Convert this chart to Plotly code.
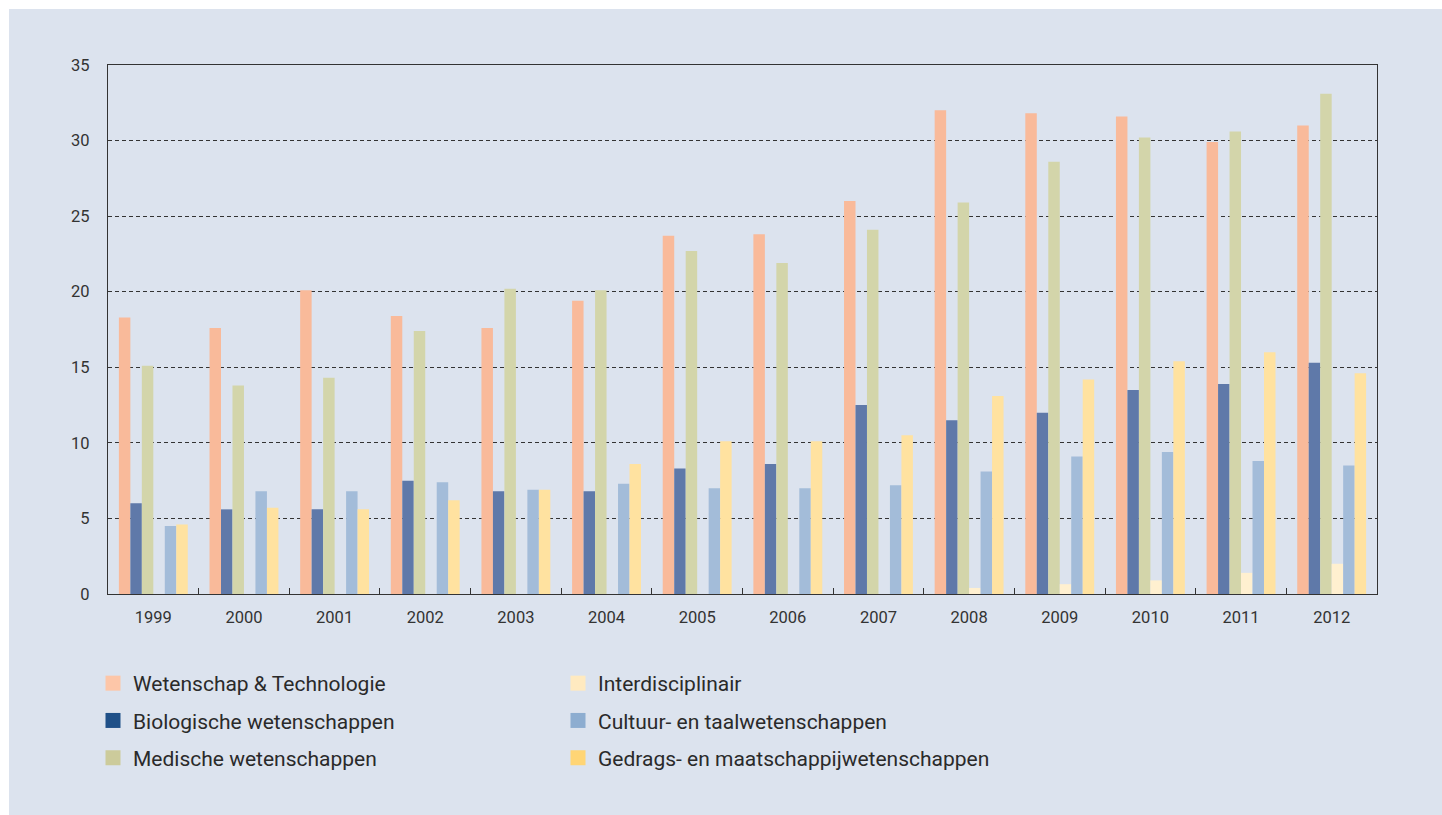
import plotly.graph_objects as go

years = ["1999", "2000", "2001", "2002", "2003", "2004", "2005", "2006",
         "2007", "2008", "2009", "2010", "2011", "2012"]

wetenschap_technologie = [18.3, 17.6, 20.1, 18.4, 17.6, 19.4, 23.7, 23.8, 26.0, 32.0, 31.8, 31.6, 29.9, 31.0]
biologische = [6.0, 5.6, 5.6, 7.5, 6.8, 6.8, 8.3, 8.6, 12.5, 11.5, 12.0, 13.5, 13.9, 15.3]
medische = [15.1, 13.8, 14.3, 17.4, 20.2, 20.1, 22.7, 21.9, 24.1, 25.9, 28.6, 30.2, 30.6, 33.1]
interdisciplinair = [0, 0, 0, 0, 0, 0, 0, 0, 0, 0.4, 0.65, 0.9, 1.4, 2.0]
cultuur_taal = [4.5, 6.8, 6.8, 7.4, 6.9, 7.3, 7.0, 7.0, 7.2, 8.1, 9.1, 9.4, 8.8, 8.5]
gedrag_maatschappij = [4.6, 5.7, 5.6, 6.2, 6.9, 8.6, 10.1, 10.1, 10.5, 13.1, 14.2, 15.4, 16.0, 14.6]

y_ticks = [0, 5, 10, 15, 20, 25, 30, 35]

# name, values, bar colour, legend swatch colour, legend, rank
series = [
    ("Wetenschap & Technologie", wetenschap_technologie, "#F9BA9A", "#FDC6A8", "legend", 1),
    ("Biologische wetenschappen", biologische, "#5F79A9", "#1F5088", "legend", 2),
    ("Medische wetenschappen", medische, "#D3D5AA", "#CCCB9B", "legend", 3),
    ("Interdisciplinair", interdisciplinair, "#FFF0D0", "#FFEAC0", "legend2", 1),
    ("Cultuur- en taalwetenschappen", cultuur_taal, "#A3BCD9", "#8DADD0", "legend2", 2),
    ("Gedrags- en maatschappijwetenschappen", gedrag_maatschappij, "#FFE2A0", "#FFD575", "legend2", 3),
]

fig = go.Figure()
for name, vals, color, sw, leg, rank in series:
    fig.add_trace(go.Bar(
        x=years, y=vals, name=name,
        marker=dict(color=color, line=dict(width=0)),
        showlegend=False,
    ))
for name, vals, color, sw, leg, rank in series:
    fig.add_trace(go.Scatter(
        x=[None], y=[None], name=name, mode="markers",
        marker=dict(symbol="square", size=15, color=sw, line=dict(width=0)),
        legend=leg, legendrank=rank, legendgroup=name, showlegend=True,
        hoverinfo="skip",
    ))

FW, FH = 1442, 815
L, T = 108, 65
PW, PH = 1269, 529
R, B = FW - L - PW, FH - T - PH


def px_x(p):  # page px -> paper
    return (p - L) / PW


def px_y(p):
    return (T + PH - p) / PH


fig.add_shape(type="rect", xref="paper", yref="paper",
              x0=px_x(9), x1=px_x(1470), y0=px_y(840), y1=px_y(9),
              fillcolor="#DCE3EE", line=dict(width=0), layer="below")

legend_common = dict(
    orientation="v", traceorder="grouped", tracegroupgap=7,
    font=dict(family="Roboto", size=21, color="#2a2a2a"),
    bgcolor="rgba(0,0,0,0)", itemclick=False, itemdoubleclick=False,
    yanchor="top", xanchor="left",
)

fig.update_layout(
    width=FW, height=FH,
    margin=dict(l=L, r=R, t=T, b=B),
    paper_bgcolor="white",
    plot_bgcolor="rgba(0,0,0,0)",
    barmode="group", bargap=0.24, bargroupgap=0,
    font=dict(family="Roboto", color="#333333"),
    legend=dict(x=px_x(93), y=px_y(663), **legend_common),
    legend2=dict(x=px_x(558), y=px_y(663), **legend_common),
    xaxis=dict(
        type="category", showline=True, linecolor="#333333", linewidth=1.3,
        mirror=True, ticks="inside", tickson="boundaries", ticklen=6,
        tickcolor="#333333", tickfont=dict(size=16.5, color="#333333"),
        showgrid=False, ticklabelstandoff=8,
    ),
    yaxis=dict(
        range=[0, 35], tickvals=y_ticks, showline=True, linecolor="#333333",
        linewidth=1.3, mirror=True, ticks="", showgrid=True,
        gridcolor="#333333", gridwidth=1, griddash="4px,3px",
        zeroline=False, tickfont=dict(size=16.5, color="#333333"),
        ticklabelstandoff=14,
    ),
    showlegend=True,
)

fig.write_html(
    "out.html",
    config={"displayModeBar": False},
    post_script="document.body.style.margin='0';document.body.style.overflow='hidden';",
)
